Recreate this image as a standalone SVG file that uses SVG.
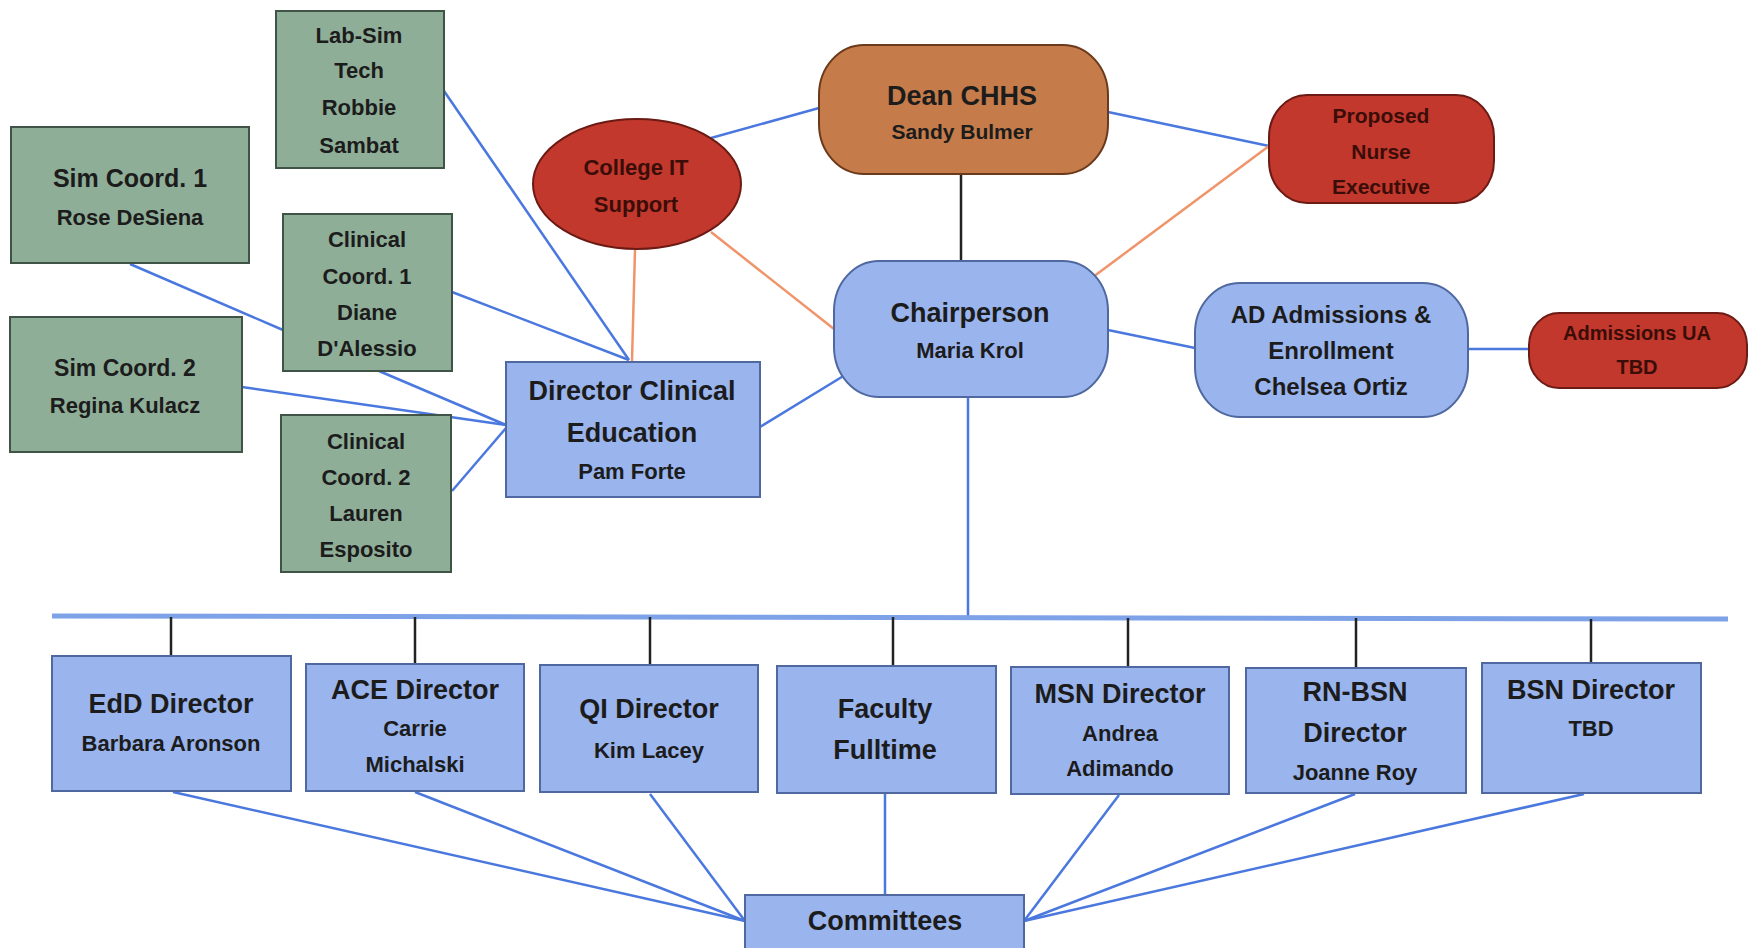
<svg xmlns="http://www.w3.org/2000/svg" width="1749" height="948" viewBox="0 0 1749 948">
<style>
.g{fill:#8fae98;stroke:#3f5446;stroke-width:2}
.b{fill:#9ab4ee;stroke:#4f68a0;stroke-width:2}
.r{fill:#c2382c;stroke:#6b1a14;stroke-width:2}
.o{fill:#c67b4a;stroke:#6a3a1a;stroke-width:2}
text{font-family:"Liberation Sans",Arial,sans-serif;font-weight:bold;fill:#1c1c1c;text-anchor:middle}
.t{font-size:27px}
.s{font-size:22px}
.m{font-size:21px;fill:#3a0d08}
.bl{stroke:#4a78de;stroke-width:2.5;fill:none}
.or{stroke:#f0946a;stroke-width:2.5;fill:none}
.dk{stroke:#222;stroke-width:2.5;fill:none}
.bus{stroke:#7ea2e8;stroke-width:5;fill:none}
</style>
<rect width="1749" height="948" fill="#fff"/>
<g id="connectors">
<line class="bl" x1="444" y1="91" x2="629" y2="360"/>
<line class="bl" x1="130" y1="264" x2="283" y2="330"/>
<line class="bl" x1="452" y1="292" x2="629" y2="360"/>
<line class="bl" x1="379" y1="371" x2="506" y2="425"/>
<line class="bl" x1="242" y1="387" x2="506" y2="425"/>
<line class="bl" x1="452" y1="491" x2="506" y2="428"/>
<line class="or" x1="635" y1="250" x2="632" y2="361"/>
<line class="or" x1="711" y1="232" x2="834" y2="329"/>
<line class="bl" x1="711" y1="138" x2="819" y2="108"/>
<line class="bl" x1="1108" y1="112" x2="1269" y2="146"/>
<line class="dk" x1="961" y1="174" x2="961" y2="262"/>
<line stroke="#7a86b8" stroke-width="2" x1="979" y1="157" x2="962" y2="174"/>
<line class="or" x1="1093" y1="277" x2="1269" y2="146"/>
<line class="bl" x1="1108" y1="330" x2="1195" y2="348"/>
<line class="bl" x1="1468" y1="349" x2="1529" y2="349"/>
<line class="bl" x1="760" y1="427" x2="845" y2="375"/>
<line class="bl" x1="968" y1="397" x2="968" y2="617"/>
<line class="bus" x1="52" y1="616" x2="1728" y2="619"/>
<line class="dk" x1="171" y1="617" x2="171" y2="656"/>
<line class="dk" x1="415" y1="617" x2="415" y2="664"/>
<line class="dk" x1="650" y1="617" x2="650" y2="665"/>
<line class="dk" x1="893" y1="617" x2="893" y2="666"/>
<line class="dk" x1="1128" y1="618" x2="1128" y2="667"/>
<line class="dk" x1="1356" y1="618" x2="1356" y2="668"/>
<line class="dk" x1="1591" y1="619" x2="1591" y2="663"/>
<line class="bl" x1="173" y1="792" x2="745" y2="921"/>
<line class="bl" x1="415" y1="792" x2="745" y2="921"/>
<line class="bl" x1="650" y1="794" x2="745" y2="921"/>
<line class="bl" x1="885" y1="793" x2="885" y2="895"/>
<line class="bl" x1="1119" y1="795" x2="1024" y2="921"/>
<line class="bl" x1="1355" y1="794" x2="1024" y2="921"/>
<line class="bl" x1="1584" y1="794" x2="1024" y2="921"/>
</g>
<g id="labsim"><rect class="g" x="276" y="11" width="168" height="157"/>
<text class="s" x="359" y="43">Lab-Sim</text><text class="s" x="359" y="78">Tech</text><text class="s" x="359" y="115">Robbie</text><text class="s" x="359" y="153">Sambat</text></g>
<g id="simcoord1"><rect class="g" x="11" y="127" width="238" height="136"/>
<text class="t" x="130" y="187" style="font-size:25px">Sim Coord. 1</text><text class="s" x="130" y="225">Rose DeSiena</text></g>
<g id="clincoord1"><rect class="g" x="283" y="214" width="169" height="157"/>
<text class="s" x="367" y="247">Clinical</text><text class="s" x="367" y="284">Coord. 1</text><text class="s" x="367" y="320">Diane</text><text class="s" x="367" y="356">D'Alessio</text></g>
<g id="simcoord2"><rect class="g" x="10" y="317" width="232" height="135"/>
<text class="s" x="125" y="376" style="font-size:23px">Sim Coord. 2</text><text class="s" x="125" y="413">Regina Kulacz</text></g>
<g id="clincoord2"><rect class="g" x="281" y="415" width="170" height="157"/>
<text class="s" x="366" y="449">Clinical</text><text class="s" x="366" y="485">Coord. 2</text><text class="s" x="366" y="521">Lauren</text><text class="s" x="366" y="557">Esposito</text></g>
<g id="dce"><rect class="b" x="506" y="362" width="254" height="135"/>
<text class="t" x="632" y="400">Director Clinical</text><text class="t" x="632" y="442">Education</text><text class="s" x="632" y="479">Pam Forte</text></g>
<g id="collegeit"><ellipse class="r" cx="637" cy="184" rx="104" ry="65"/>
<text class="m" x="636" y="175" style="font-size:22px">College IT</text><text class="m" x="636" y="212" style="font-size:22px">Support</text></g>
<g id="dean"><rect class="o" x="819" y="45" width="289" height="129" rx="45" ry="50"/>
<text class="t" x="962" y="105">Dean CHHS</text><text class="s" x="962" y="139" style="font-size:21px">Sandy Bulmer</text></g>
<g id="nurseexec"><rect class="r" x="1269" y="95" width="225" height="108" rx="38" ry="42"/>
<text class="m" x="1381" y="123">Proposed</text><text class="m" x="1381" y="159">Nurse</text><text class="m" x="1381" y="194">Executive</text></g>
<g id="chair"><rect class="b" x="834" y="261" width="274" height="136" rx="45" ry="50"/>
<text class="t" x="970" y="322">Chairperson</text><text class="s" x="970" y="358">Maria Krol</text></g>
<g id="adadm"><rect class="b" x="1195" y="283" width="273" height="134" rx="45" ry="50"/>
<text class="s" x="1331" y="323" style="font-size:24px">AD Admissions &amp;</text><text class="s" x="1331" y="359" style="font-size:24px">Enrollment</text><text class="s" x="1331" y="395" style="font-size:24px">Chelsea Ortiz</text></g>
<g id="admua"><rect class="r" x="1529" y="313" width="218" height="75" rx="30" ry="32"/>
<text class="m" x="1637" y="340" style="font-size:20px">Admissions UA</text><text class="m" x="1637" y="374" style="font-size:20px">TBD</text></g>
<g id="edd"><rect class="b" x="52" y="656" width="239" height="135"/>
<text class="t" x="171" y="713">EdD Director</text><text class="s" x="171" y="751">Barbara Aronson</text></g>
<g id="ace"><rect class="b" x="306" y="664" width="218" height="127"/>
<text class="t" x="415" y="699">ACE Director</text><text class="s" x="415" y="736">Carrie</text><text class="s" x="415" y="772">Michalski</text></g>
<g id="qi"><rect class="b" x="540" y="665" width="218" height="127"/>
<text class="t" x="649" y="718">QI Director</text><text class="s" x="649" y="758">Kim Lacey</text></g>
<g id="faculty"><rect class="b" x="777" y="666" width="219" height="127"/>
<text class="t" x="885" y="718">Faculty</text><text class="t" x="885" y="759">Fulltime</text></g>
<g id="msn"><rect class="b" x="1011" y="667" width="218" height="127"/>
<text class="t" x="1120" y="703">MSN Director</text><text class="s" x="1120" y="741">Andrea</text><text class="s" x="1120" y="776">Adimando</text></g>
<g id="rnbsn"><rect class="b" x="1246" y="668" width="220" height="125"/>
<text class="t" x="1355" y="701">RN-BSN</text><text class="t" x="1355" y="742">Director</text><text class="s" x="1355" y="780">Joanne Roy</text></g>
<g id="bsn"><rect class="b" x="1482" y="663" width="219" height="130"/>
<text class="t" x="1591" y="699">BSN Director</text><text class="s" x="1591" y="736">TBD</text></g>
<g id="committees"><rect class="b" x="745" y="895" width="279" height="60"/>
<text class="t" x="885" y="930">Committees</text></g>
</svg>
